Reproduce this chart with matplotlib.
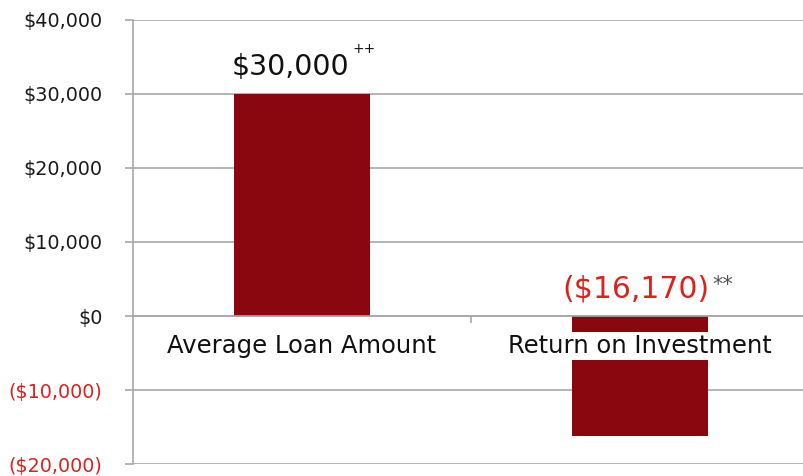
import matplotlib
matplotlib.use("Agg")
import matplotlib.pyplot as plt
from matplotlib.ticker import FuncFormatter

# data
categories = ["Average Loan Amount", "Return on Investment"]
values = [30000, -16170]
value_labels = ["$30,000", "($16,170)"]
value_notes = ["++", "**"]
y_ticks = [-20000, -10000, 0, 10000, 20000, 30000, 40000]

bar_color = "#8B0710"
neg_red = "#D8231E"
grid_gray = "#A8A8A8"


def money(v, pos=None):
    if v < 0:
        return "(${:,.0f})".format(-v)
    return "${:,.0f}".format(v)


fig = plt.figure(figsize=(8.04, 4.76), dpi=100)
ax = fig.add_axes([0.1654, 0.0252, 0.8408, 0.9328])

x = list(range(len(categories)))
ax.bar(x, values, width=0.4, color=bar_color, zorder=1)

ax.set_xlim(-0.5, len(categories) - 0.5)
ax.set_ylim(y_ticks[0], y_ticks[-1])
ax.set_yticks(y_ticks)
ax.yaxis.set_major_formatter(FuncFormatter(money))
ax.grid(axis="y", color=grid_gray, linewidth=1.2)
ax.set_axisbelow(True)

for sp in ["top", "right"]:
    ax.spines[sp].set_visible(False)
ax.spines["left"].set_color(grid_gray)
ax.spines["left"].set_linewidth(1.2)
ax.spines["bottom"].set_position(("data", 0))
ax.spines["bottom"].set_color(grid_gray)
ax.spines["bottom"].set_linewidth(1.2)

ax.tick_params(axis="y", length=6, width=1.2, color=grid_gray, pad=16,
               labelsize=13.8, labelcolor="#1a1a1a")
for lab, v in zip(ax.get_yticklabels(), y_ticks):
    if v < 0:
        lab.set_color(neg_red)

ax.set_xticks(x)
ax.set_xticklabels(categories)
ax.set_xticks([0.5], minor=True)
ax.tick_params(axis="x", which="major", length=0, pad=13, labelsize=17.5,
               labelcolor="#111111")
ax.tick_params(axis="x", which="minor", length=5, width=1.2, color=grid_gray)
for lab in ax.get_xticklabels():
    lab.set_bbox(dict(facecolor="white", edgecolor="none",
                      boxstyle="square,pad=0.08"))
ax.xaxis.set_zorder(3)

# value labels above bar (or above zero line for negatives)
label_colors = ["#111111", neg_red]
label_sizes = [20.5, 21.5]
note_colors = ["#111111", "#555555"]
note_sizes = [10, 15]
note_dx = [51, 72]
note_dy = [45, 31]
main_dx = [-12, -4]
for i, v in enumerate(values):
    base = max(v, 0)
    ax.annotate(value_labels[i], (i, base), xytext=(main_dx[i], 27),
                textcoords="offset pixels", ha="center", va="center",
                fontsize=label_sizes[i], color=label_colors[i], zorder=4)
    ax.annotate(value_notes[i], (i, base), xytext=(note_dx[i], note_dy[i]),
                textcoords="offset pixels", ha="left", va="center",
                fontsize=note_sizes[i], color=note_colors[i], zorder=4)

fig.savefig("out.png", dpi=100)
